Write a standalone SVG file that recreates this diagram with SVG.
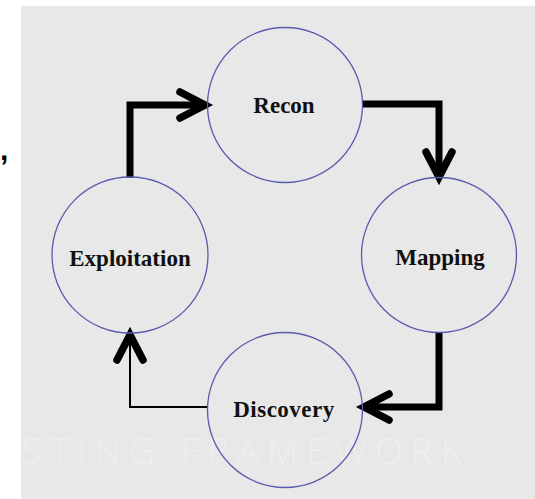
<svg xmlns="http://www.w3.org/2000/svg" width="535" height="499" viewBox="0 0 535 499">
<style>
.node circle{fill:none;stroke:#5a5ab0;stroke-width:1.3}
.node text{font-family:"Liberation Serif","Times New Roman",serif;font-weight:bold;font-size:23px;fill:#111;text-anchor:middle}
.thick{fill:none;stroke:#000;stroke-width:7;stroke-linejoin:miter}
.thin{fill:none;stroke:#000;stroke-width:2}
.watermark{font-family:"Open Sans","Liberation Sans",sans-serif;font-weight:300;font-size:36px;fill:#eeeeee}
</style>
<defs>
<marker id="chev" markerUnits="userSpaceOnUse" viewBox="0 0 32 32" markerWidth="32" markerHeight="32" refX="28" refY="16" orient="auto" overflow="visible">
<path d="M3,3 L28,16 L3,29" fill="none" stroke="#000" stroke-width="7.5" stroke-linecap="round" stroke-linejoin="miter"/>
</marker>
</defs>
<rect x="0" y="0" width="535" height="499" fill="#ffffff"/>
<rect x="21" y="6" width="514" height="493" fill="#e8e8e8"/>
<text class="watermark" x="22" y="464" textLength="440" lengthAdjust="spacing">STING FRAMEWORK</text>
<text x="0" y="160" font-family="Liberation Sans,Arial,sans-serif" font-weight="bold" font-size="30" fill="#000">,</text>
<g id="connectors">
<path class="thick" d="M130,178 V105 H205" marker-end="url(#chev)"/>
<path class="thick" d="M362,104 H439 V177" marker-end="url(#chev)"/>
<path class="thick" d="M439,332 V407 H364" marker-end="url(#chev)"/>
<path class="thin" d="M207,407 H130 V335" marker-end="url(#chev)"/>
</g>
<g id="recon" class="node">
<circle cx="285" cy="105" r="77.5"/>
<text x="284" y="113">Recon</text>
</g>
<g id="mapping" class="node">
<circle cx="439" cy="255" r="77.5"/>
<text x="440" y="265">Mapping</text>
</g>
<g id="discovery" class="node">
<circle cx="285" cy="410" r="77.5"/>
<text x="284" y="417" letter-spacing="0.5">Discovery</text>
</g>
<g id="exploitation" class="node">
<circle cx="130" cy="255" r="78"/>
<text x="130" y="266">Exploitation</text>
</g>
</svg>
